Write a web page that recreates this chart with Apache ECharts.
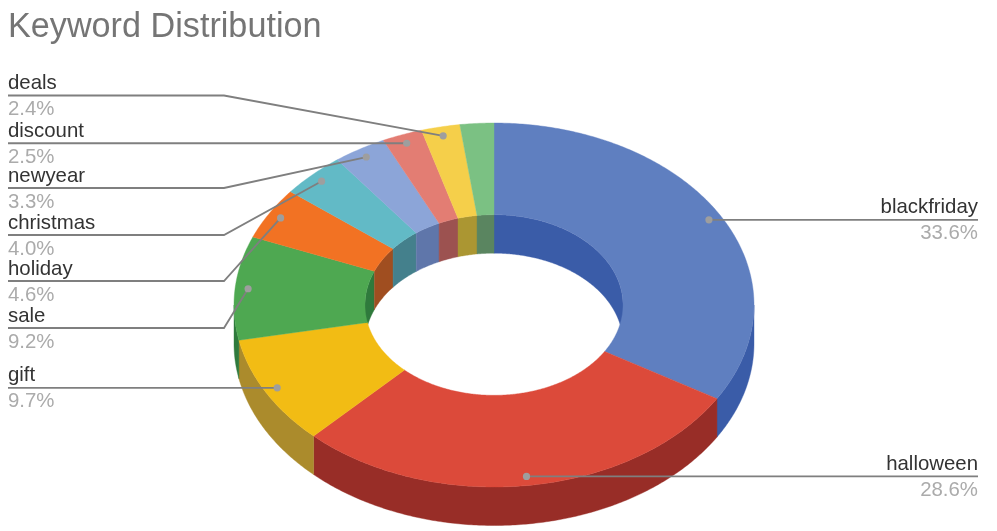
<!DOCTYPE html>
<html>
<head>
<meta charset="utf-8">
<style>html,body{margin:0;padding:0;background:#fff}#chart{width:997px;height:531px;filter:blur(0.5px)}</style>
<script src="https://cdn.jsdelivr.net/npm/echarts@6/dist/echarts.min.js"></script>
</head>
<body>
<div id="chart"></div>
<script>
// ---- data (clockwise from 12 o'clock) ----
const keywords = ['blackfriday','halloween','gift','sale','holiday','christmas','newyear','discount','deals','other'];
const shares   = [33.6,28.6,9.7,9.2,4.6,4.0,3.3,2.5,2.4,2.1];

// ---- styles ----
const topColors   = ['#5f7fc0','#dc4a3a','#f2bc14','#4ea851','#f27223','#62bac6','#8ca5d8','#e37d73','#f5cf4a','#7bc183'];
const outerColors = ['#3a5ca8','#982d27','#ab8b2c','#2f7a3c','#a04e20','#44808c','#5f76aa','#9c5250','#ab9632','#5a8560'];
const innerColors = outerColors;

// ---- layout (y of each label rule; null = level with its dot; side of chart) ----
const ruleY = [null,null,null,328,281,235,188,null,95.5,null];
const sides = ['right','right','left','left','left','left','left','left','left',null];

const CX = 494, CY = 305, RX = 260, RY = 182, HOLE = 0.4962, DEPTH = 38.5;
const LEFT = 8, RIGHT = 978, ELBOW = 224, DOT_R = 0.95;

const total = shares.reduce((a, b) => a + b, 0);
const TAU = Math.PI * 2;
function angles(i) {
  let before = 0;
  for (let k = 0; k < i; k++) before += shares[k];
  return [before / total * TAU, (before + shares[i]) / total * TAU];
}
function pt(a, r, dy) {
  return [CX + RX * r * Math.sin(a), CY - RY * r * Math.cos(a) + (dy || 0)];
}
function arc(a0, a1, r, dy) {
  const n = Math.max(2, Math.ceil(Math.abs(a1 - a0) / 0.01));
  const out = [];
  for (let j = 0; j <= n; j++) out.push(pt(a0 + (a1 - a0) * j / n, r, dy));
  return out;
}
function poly(points, color) {
  return {type:'polygon', silent:true, shape:{points},
    style:{fill:color, stroke:color, lineWidth:0.4}};
}
function wall(a0, a1, r, color) {
  return poly(arc(a0, a1, r, 0).concat(arc(a1, a0, r, DEPTH)), color);
}
function clip(a0, a1, lo, hi) {
  const s = Math.max(a0, lo), e = Math.min(a1, hi);
  return e > s ? [s, e] : null;
}
const Q = Math.PI / 2, B = Math.PI * 1.5;

function innerLayer(params) {
  const i = params.dataIndex, [a0, a1] = angles(i), kids = [];
  [clip(a0, a1, 0, Q), clip(a0, a1, B, TAU)].forEach(c => {
    if (c) kids.push(wall(c[0], c[1], HOLE, innerColors[i]));
  });
  return {type:'group', children:kids};
}
function outerLayer(params) {
  const i = params.dataIndex, [a0, a1] = angles(i);
  const c = clip(a0, a1, Q, B);
  return {type:'group', children: c ? [wall(c[0], c[1], 1, outerColors[i])] : []};
}
function topLayer(params) {
  const i = params.dataIndex, [a0, a1] = angles(i);
  return poly(arc(a0, a1, 1, 0).concat(arc(a1, a0, HOLE, 0)), topColors[i]);
}
function labelLayer(params) {
  const i = params.dataIndex, side = sides[i];
  if (!side) return {type:'group', children:[]};
  const [a0, a1] = angles(i);
  const dot = pt((a0 + a1) / 2, DOT_R, 0);
  const y = ruleY[i] == null ? dot[1] : ruleY[i];
  const line = side === 'left' ? [[LEFT, y], [ELBOW, y], dot] : [[RIGHT, y], dot];
  const tx = side === 'left' ? LEFT : RIGHT;
  return {type:'group', children:[
    {type:'polyline', silent:true, shape:{points:line},
      style:{fill:'none', stroke:'#7f7f7f', lineWidth:1.8}},
    {type:'circle', silent:true, shape:{cx:dot[0], cy:dot[1], r:3.6},
      style:{fill:'#9e9e9e'}},
    {type:'text', silent:true, style:{text:keywords[i], x:tx, y:y-2, align:side, verticalAlign:'bottom',
      fill:'#333333', font:'20.4px "Liberation Sans", Arial, sans-serif'}},
    {type:'text', silent:true, style:{text:shares[i].toFixed(1)+'%', x:tx, y:y+4, align:side, verticalAlign:'top',
      fill:'#ababab', font:'20.4px "Liberation Sans", Arial, sans-serif'}}
  ]};
}

const seriesData = keywords.map((k, i) => ({name:k, value:shares[i]}));
const layer = (fn) => ({type:'custom', coordinateSystem:'none', renderItem:fn, data:seriesData,
  animation:false, silent:true});

const chart = echarts.init(document.getElementById('chart'));
chart.setOption({
  animation:false,
  backgroundColor:'#ffffff',
  title:{text:'Keyword Distribution', left:3, top:6,
    textStyle:{color:'#757575', fontSize:34.2, fontWeight:'normal', fontFamily:'"Liberation Sans", Arial, sans-serif'}},
  tooltip:{show:false},
  series:[layer(innerLayer), layer(outerLayer), layer(topLayer), layer(labelLayer)]
});
</script>
</body>
</html>
